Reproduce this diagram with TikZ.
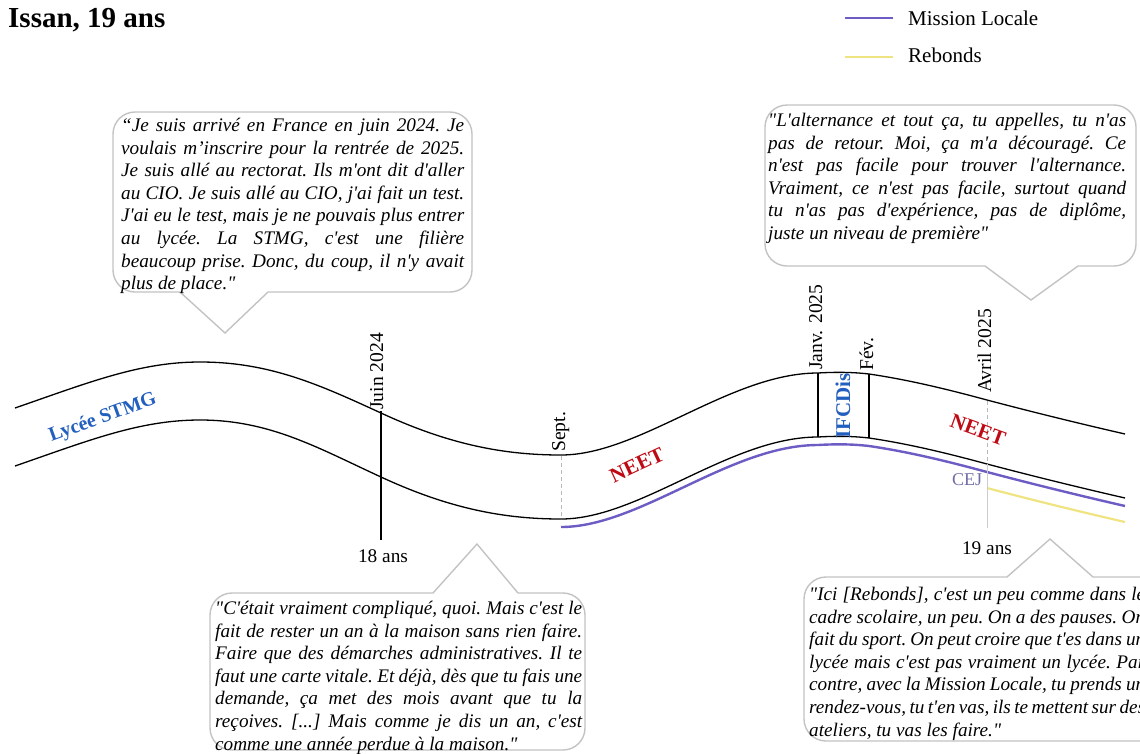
\documentclass[tikz,border=0pt]{standalone}
\usepackage{fontspec}
\newfontfamily\tnr{Liberation Serif}
\definecolor{mlpurple}{RGB}{108,92,196}
\definecolor{rbyellow}{RGB}{240,228,130}
\definecolor{lblue}{RGB}{35,95,190}
\definecolor{neetred}{RGB}{190,10,20}
\definecolor{cejcol}{RGB}{112,108,165}
\definecolor{bubgray}{RGB}{195,195,195}
\newdimen\qw
\newcommand\qline[1]{\hbox to \qw{#1}}
\newcommand\qlast[1]{\hbox{#1}}
\hbadness=10000 \hfuzz=20pt
\newcommand\trackupper[1]{\draw[#1] (15,408) .. controls (90,382) and (140,362) .. (200,362) .. controls (270,362) and (320,385) .. (381,413) .. controls (450,445) and (505,455) .. (561,455) .. controls (640,455) and (730,373) .. (818,373) .. controls (835,372) and (852,372) .. (869,374) .. controls (910,380) and (950,390) .. (987,400) .. controls (1040,414) and (1090,426) .. (1125,434);}
\newcommand\tracklower[1]{\draw[#1] (15,466) .. controls (90,440) and (140,420) .. (200,420) .. controls (270,420) and (318,448) .. (381,477) .. controls (450,509) and (505,519) .. (561,519) .. controls (640,519) and (730,437) .. (818,437) .. controls (835,436) and (852,436) .. (869,438) .. controls (910,444) and (950,454) .. (987,464) .. controls (1040,478) and (1090,490) .. (1125,498);}
\newcommand\trackmid[1]{\draw[#1] (561,455) .. controls (640,455) and (730,373) .. (818,373) .. controls (835,372) and (852,372) .. (869,374) .. controls (910,380) and (950,390) .. (987,400) .. controls (1040,414) and (1090,426) .. (1125,434);}
\newcommand\trackright[1]{\draw[#1] (987,400) .. controls (1040,414) and (1090,426) .. (1125,434);}
\tikzset{
  track/.style={line width=1.3pt, black},
  mlline/.style={line width=2.4pt, mlpurple},
  rbline/.style={line width=2.2pt, rbyellow},
  bubble/.style={draw=bubgray, line width=1.4pt, fill=white},
  quote/.style={inner sep=0pt, anchor=north west, font=\tnr\itshape\fontsize{19.2}{22.6}\selectfont\frenchspacing},
  datelbl/.style={inner sep=0pt, rotate=90, anchor=base west, font=\tnr\fontsize{19.6}{20}\selectfont},
  agelbl/.style={inner sep=0pt, font=\tnr\fontsize{19.3}{20}\selectfont},
  legtext/.style={inner sep=0pt, anchor=west, font=\tnr\fontsize{21}{22}\selectfont},
  marker/.style={line width=1.2pt, black},
  faint/.style={line width=0.8pt, gray!55, dash pattern=on 4pt off 3pt},
  faintsolid/.style={line width=0.8pt, gray!40},
  phase/.style={inner sep=0pt, font=\tnr\bfseries\fontsize{21}{22}\selectfont},
}
\begin{document}
\begin{tikzpicture}[x=1pt,y=-1pt]
\useasboundingbox (0,0) rectangle (1140,753);
\clip (0,0) rectangle (1140,753);

% title
\node[anchor=north west, inner sep=0pt, font=\tnr\bfseries\fontsize{29}{30}\selectfont] (title) at (8,8) {Issan, 19 ans};

% legend
\coordinate (lgA1) at (845,18); \coordinate (lgA2) at (893,18);
\draw[mlline] (lgA1) -- (lgA2);
\node[legtext] (lgAt) at (908,18) {Mission Locale};
\coordinate (lgB1) at (845,57); \coordinate (lgB2) at (893,57);
\draw[rbline] (lgB1) -- (lgB2);
\node[legtext] (lgBt) at (908,55) {Rebonds};

% bubbles
\draw[bubble] (290,112) [rounded corners=22pt] -- (472,112) -- (472,292) [sharp corners] -- (268,292) -- (225,333) -- (180,292) [rounded corners=22pt] -- (113,292) -- (113,112) -- cycle;
\draw[bubble] (950,105) [rounded corners=22pt] -- (1136,105) -- (1136,266) [sharp corners] -- (1078,266) -- (1031,300) -- (985,266) [rounded corners=22pt] -- (765,266) -- (765,105) -- cycle;
\draw[bubble] (400,750) [rounded corners=22pt] -- (210,750) -- (210,593) [sharp corners] -- (433,593) -- (477,544) -- (518,593) [rounded corners=22pt] -- (585,593) -- (585,750) -- cycle;
\draw[bubble] (900,577) [sharp corners] -- (1007,577) -- (1050,539) -- (1093,577) [rounded corners=22pt] -- (1165,577) -- (1165,741) -- (804,741) -- (804,577) -- cycle;

% quotes
\node[quote] (q1) at (121,118) {\vbox{\qw=343pt\relax
\qline{“Je suis arrivé en France en juin 2024. Je}
\qline{voulais m’inscrire pour la rentrée de 2025.}
\qline{Je suis allé au rectorat. Ils m'ont dit d'aller}
\qline{au CIO. Je suis allé au CIO, j'ai fait un test.}
\qline{J'ai eu le test, mais je ne pouvais plus entrer}
\qline{au lycée. La STMG, c'est une filière}
\qline{beaucoup prise. Donc, du coup, il n'y avait}
\qlast{plus de place."}}};

\node[quote] (q2) at (768,113) {\vbox{\qw=358pt\relax
\qline{"L'alternance et tout ça, tu appelles, tu n'as}
\qline{pas de retour. Moi, ça m'a découragé. Ce}
\qline{n'est pas facile pour trouver l'alternance.}
\qline{Vraiment, ce n'est pas facile, surtout quand}
\qline{tu n'as pas d'expérience, pas de diplôme,}
\qlast{juste un niveau de première"}}};

\node[quote] (q3) at (215,601) {\vbox{\qw=367pt\relax
\qline{"C'était vraiment compliqué, quoi. Mais c'est le}
\qline{fait de rester un an à la maison sans rien faire.}
\qline{Faire que des démarches administratives. Il te}
\qline{faut une carte vitale. Et déjà, dès que tu fais une}
\qline{demande, ça met des mois avant que tu la}
\qline{reçoives. [...] Mais comme je dis un an, c'est}
\qlast{comme une année perdue à la maison."}}};

\node[quote] (q4) at (809,587) {\vbox{\qw=336pt\relax
\qline{"Ici [Rebonds], c'est un peu comme dans le}
\qline{cadre scolaire, un peu. On a des pauses. On}
\qline{fait du sport. On peut croire que t'es dans un}
\qline{lycée mais c'est pas vraiment un lycée. Par}
\qline{contre, avec la Mission Locale, tu prends un}
\qline{rendez-vous, tu t'en vas, ils te mettent sur des}
\qlast{ateliers, tu vas les faire."}}};

% tracks
\trackupper{track}
\tracklower{track}
\trackmid{mlline, shift={(0,72)}}
\trackright{rbline, shift={(0,88)}}

% markers
\coordinate (juinT) at (381,411); \coordinate (juinB) at (381,540);
\draw[marker] (juinT) -- (juinB);
\node[datelbl] (juin) at (383,410) {Juin 2024};
\node[agelbl] (age18) at (383,556) {18 ans};

\coordinate (septT) at (561,456); \coordinate (septB) at (561,519);
\draw[faint] (septT) -- (septB);
\node[datelbl] (sept) at (565,452) {Sept.};

\coordinate (janT) at (818,373); \coordinate (janB) at (818,437);
\draw[marker] (janT) -- (janB);
\node[datelbl] (janv) at (822,370) {Janv. 2025};
\coordinate (fevT) at (869,374); \coordinate (fevB) at (869,438);
\draw[marker] (fevT) -- (fevB);
\node[datelbl] (fev) at (873,371) {Fév.};
\node[phase, rotate=90, text=lblue] (ifc) at (843,406) {IFCDis};

\coordinate (avrT) at (987,401); \coordinate (avrM) at (987,464); \coordinate (avrB) at (987,528);
\draw[faint] (avrT) -- (avrM);
\draw[faintsolid] (avrM) -- (avrB);
\node[datelbl] (avril) at (991,393) {Avril 2025};
\node[agelbl] (age19) at (987,548) {19 ans};

% phase labels
\node[phase, rotate=20, text=lblue, font=\tnr\bfseries\fontsize{20}{21}\selectfont] (lycee) at (103,418) {Lycée STMG};
\node[phase, rotate=25, text=neetred] (neet1) at (637,465) {NEET};
\node[phase, rotate=-20, text=neetred] (neet2) at (978,430) {NEET};
\node[inner sep=0pt, text=cejcol, font=\tnr\fontsize{18}{19}\selectfont] (cej) at (967,480) {CEJ};
\end{tikzpicture}
\end{document}
